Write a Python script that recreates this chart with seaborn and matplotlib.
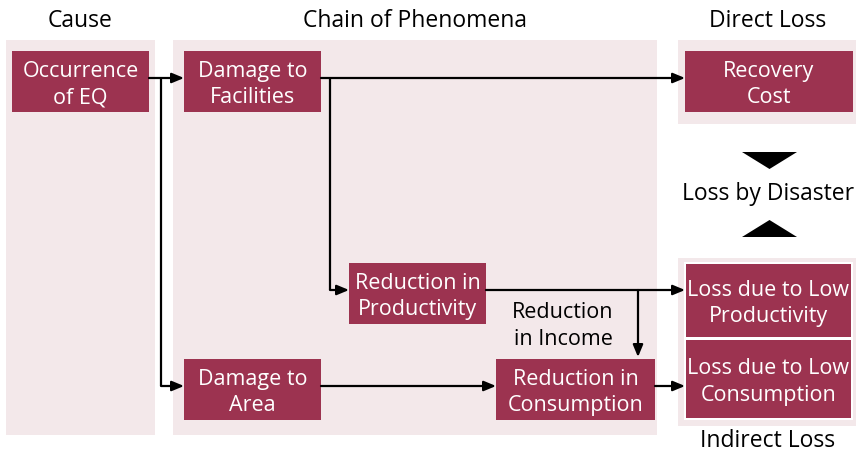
import matplotlib
matplotlib.use("Agg")
import matplotlib.pyplot as plt
import seaborn as sns
from matplotlib.patches import Rectangle, Polygon

# ---- content (text) ----
section_titles = ["Cause", "Chain of Phenomena", "Direct Loss", "Indirect Loss"]
node_labels = [
    "Occurrence\nof EQ",
    "Damage to\nFacilities",
    "Recovery\nCost",
    "Reduction in\nProductivity",
    "Damage to\nArea",
    "Reduction in\nConsumption",
    "Loss due to Low\nProductivity",
    "Loss due to Low\nConsumption",
]
middle_label = "Loss by Disaster"
edge_label = "Reduction\nin Income"

# ---- layout (pixel coordinates, y downward) ----
panels = [(6, 41, 155, 436), (173, 41, 657, 436), (678, 41, 856, 125), (678, 259, 856, 427)]
node_boxes = [
    (12, 52, 149, 113),
    (184, 52, 321, 113),
    (685, 52, 853, 113),
    (349, 264, 486, 325),
    (184, 360, 321, 421),
    (496, 360, 655, 421),
    (686, 265, 851, 338),
    (686, 341, 851, 419),
]
title_pos = [(80, 21), (415, 21), (768, 21), (768, 441)]

sns.set_theme(style="white")
plt.rcParams['font.family'] = ['Open Sans', 'DejaVu Sans']

BOX = "#9c3350"
PANEL = "#f3e8ea"
BOX_FS = 15.5
HEAD_FS = 16.5
LSP = 1.32

fig = plt.figure(figsize=(8.56, 4.56), dpi=100)
ax = fig.add_axes([0, 0, 1, 1])
ax.set_xlim(0, 856)
ax.set_ylim(456, 0)
ax.axis("off")

for (x0, y0, x1, y1) in panels:
    ax.add_patch(Rectangle((x0, y0), x1 - x0, y1 - y0, facecolor=PANEL, edgecolor="none", zorder=0))

# white frame around indirect boxes
ax.add_patch(Rectangle((684, 263), 169, 158, facecolor="white", edgecolor="none", zorder=1))

for lab, (x0, y0, x1, y1) in zip(node_labels, node_boxes):
    ax.add_patch(Rectangle((x0, y0), x1 - x0, y1 - y0, facecolor=BOX, edgecolor="none", zorder=2))
    ax.text((x0 + x1) / 2, (y0 + y1) / 2 + 2, lab, ha="center", va="center", color="white",
            fontsize=BOX_FS, linespacing=LSP, zorder=3)

for t, (x, y) in zip(section_titles, title_pos):
    ax.text(x, y, t, ha="center", va="center", color="black", fontsize=HEAD_FS)

ax.text(768, 194, middle_label, ha="center", va="center", color="black", fontsize=HEAD_FS)
ax.text(563, 326, edge_label, ha="center", va="center", color="black", fontsize=BOX_FS, linespacing=LSP)

# triangles
ax.add_patch(Polygon([(742, 153), (797, 153), (769.5, 170)], closed=True, facecolor="black", edgecolor="none"))
ax.add_patch(Polygon([(742, 238), (797, 238), (769.5, 221)], closed=True, facecolor="black", edgecolor="none"))

LW = 1.6
def line(xs, ys):
    ax.plot(xs, ys, color="black", lw=LW, solid_capstyle="butt", solid_joinstyle="miter", zorder=4)

def arrow(x0, y0, x1, y1):
    ax.annotate("", xy=(x1, y1), xytext=(x0, y0),
                arrowprops=dict(arrowstyle="-|>,head_length=0.6,head_width=0.25", color="black",
                                lw=LW, shrinkA=0, shrinkB=0), zorder=4)

# Occurrence -> Damage to Facilities
arrow(149, 79, 184, 79)
# Occurrence -> Damage to Area
line([161, 161], [79, 387])
arrow(161, 387, 184, 387)
# Damage Facilities -> Recovery Cost
arrow(321, 79, 685, 79)
# Damage Facilities -> Reduction in Productivity
line([330, 330], [79, 291])
arrow(330, 291, 349, 291)
# Reduction in Productivity -> Loss low productivity
arrow(486, 291, 685, 291)
# Reduction in Income
arrow(638, 291, 638, 358)
# Damage to Area -> Reduction in Consumption
arrow(321, 387, 496, 387)
# Reduction in Consumption -> Loss low consumption
arrow(655, 387, 685, 387)

fig.savefig("out.png", dpi=100)
